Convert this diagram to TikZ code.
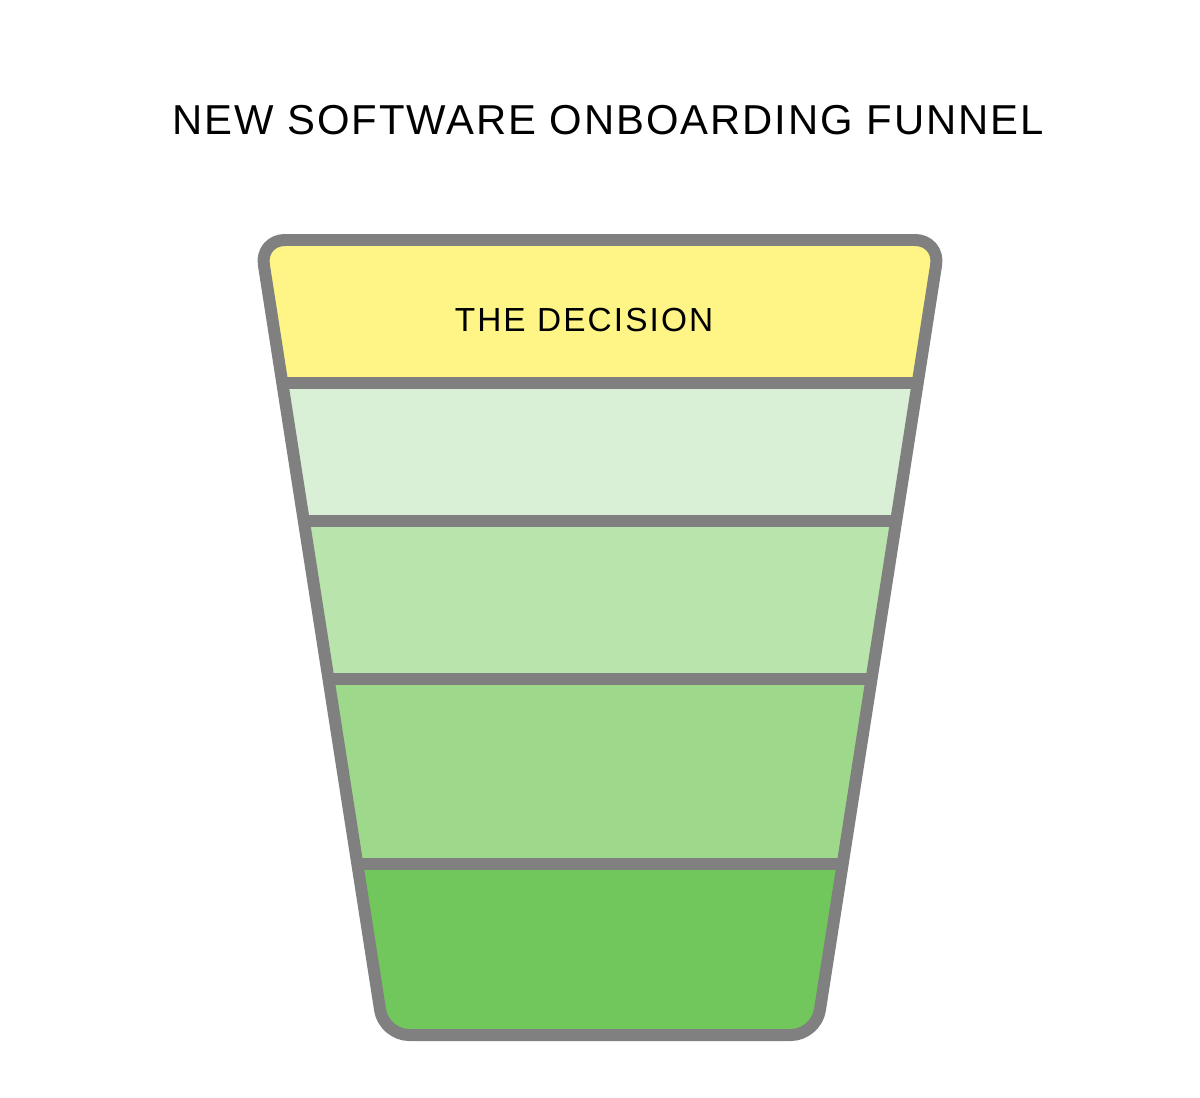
\documentclass[tikz,border=0pt]{standalone}
\usepackage{fontspec}
\setmainfont{Liberation Sans}
\newfontfamily\titlefont[LetterSpace=4.6]{Liberation Sans}
\newfontfamily\bandfont[LetterSpace=6.3]{Liberation Sans}
\usetikzlibrary{calc}
\definecolor{funnelgray}{HTML}{808080}
\definecolor{decision}{HTML}{FEF586}
\definecolor{greenA}{HTML}{DAF0D6}
\definecolor{greenB}{HTML}{B9E4AB}
\definecolor{greenC}{HTML}{9DD88B}
\definecolor{greenD}{HTML}{72C75C}
\begin{document}
\begin{tikzpicture}[x=0.02cm, y=-0.02cm]
\tikzset{ outline/.style={draw=funnelgray, line width=0.24cm, rounded corners=0.5cm, line join=round},
  divider/.style={draw=funnelgray, line width=0.24cm},
  label/.style={inner sep=0pt, font=\bandfont\fontsize{19}{19}\selectfont},
}

\useasboundingbox (0,0) rectangle (1200,1098);

\coordinate (TL) at (260,240);
\coordinate (TR) at (940,240);
\coordinate (BR) at (816,1035);
\coordinate (BL) at (384,1035);

\coordinate (L1) at ($(TL)!0.1799!(BL)$);
\coordinate (R1) at ($(TR)!0.1799!(BR)$);
\coordinate (L2) at ($(TL)!0.3535!(BL)$);
\coordinate (R2) at ($(TR)!0.3535!(BR)$);
\coordinate (L3) at ($(TL)!0.5522!(BL)$);
\coordinate (R3) at ($(TR)!0.5522!(BR)$);
\coordinate (L4) at ($(TL)!0.7849!(BL)$);
\coordinate (R4) at ($(TR)!0.7849!(BR)$);

\begin{scope}
\clip [rounded corners=0.5cm] (TL) -- (TR) -- (BR) -- (BL) -- cycle;
\fill [decision] (0,0)        rectangle (1200,383);
\fill [greenA]   (0,383)      rectangle (1200,521);
\fill [greenB]   (0,521)      rectangle (1200,679);
\fill [greenC]   (0,679)      rectangle (1200,864);
\fill [greenD]   (0,864)      rectangle (1200,1098);
\end{scope}

\draw [divider] (L1) -- (R1);
\draw [divider] (L2) -- (R2);
\draw [divider] (L3) -- (R3);
\draw [divider] (L4) -- (R4);

\draw [outline] (TL) -- (TR) -- (BR) -- (BL) -- cycle;

\node [label] (decision) at (584,320) {THE DECISION};
\node [inner sep=0pt, font=\titlefont\fontsize{23.8}{24}\selectfont] (title) at (608,120) {NEW SOFTWARE ONBOARDING FUNNEL};

\end{tikzpicture}
\end{document}
